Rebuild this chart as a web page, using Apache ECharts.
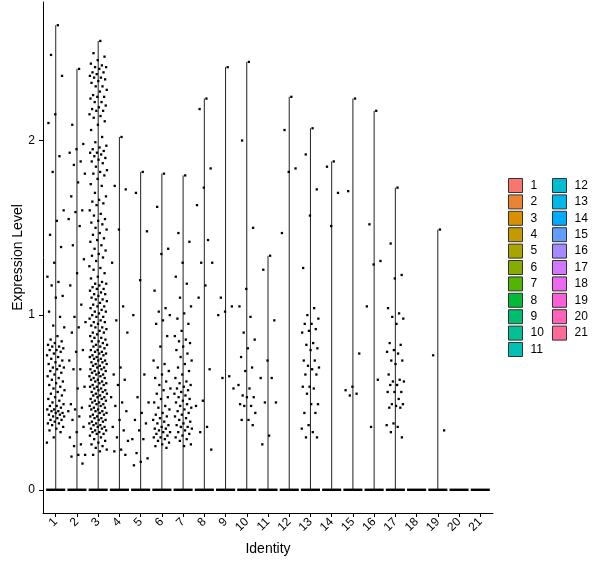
<!DOCTYPE html>
<html>
<head>
<meta charset="utf-8">
<script src="https://cdn.jsdelivr.net/npm/echarts@6/dist/echarts.min.js"></script>
<style>
html,body{margin:0;padding:0;background:#fff;}
#chart{width:600px;height:568px;}
</style>
</head>
<body>
<div id="chart"></div>
<script>
// ---- data ----
const clusters = ['1','2','3','4','5','6','7','8','9','10','11','12','13','14','15','16','17','18','19','20','21'];
const yTicks = [0, 1, 2];
const expr1 = [2.66,2.49,2.37,2.15,2.10,1.91,1.82,1.60,1.54,1.46,1.39,1.30,1.22,1.19,1.17,1.11,1.10,1.02,0.99,0.94,0.93,0.88,
0.86,0.85,0.84,0.83,0.82,0.82,0.81,0.80,0.80,0.79,0.78,0.77,0.76,0.75,0.74,0.73,0.72,0.71,0.70,0.70,0.69,0.68,0.67,0.66,0.65,0.64,0.63,0.62,0.61,0.60,0.59,0.58,0.57,0.56,0.55,0.54,0.53,0.52,0.51,0.50,0.49,0.48,0.48,0.47,0.46,0.46,0.45,0.45,0.44,0.44,0.43,0.43,0.42,0.42,0.41,0.40,0.40,0.39,0.38,0.38,0.37,0.36,0.35,0.34,0.33,0.30,0.27];
const expr2 = [2.41,2.09,1.98,1.95,1.93,1.88,1.86,1.81,1.76,1.68,1.60,1.59,1.55,1.51,1.40,1.32,1.24,1.17,1.06,0.99,0.96,0.93,0.90,0.80,0.79,0.74,0.69,0.69,0.59,0.58,0.49,0.47,0.46,0.45,0.42,0.40,0.36,0.33,0.30,0.26,0.25,0.20,0.20,0.19,0.15];
const expr3 = [2.57,2.50,2.48,2.46,2.44,2.43,2.42,2.42,2.41,2.39,2.39,2.38,2.37,2.36,2.36,2.35,2.34,2.33,2.31,2.31,2.29,2.28,2.26,2.25,2.25,2.24,2.22,2.22,2.20,2.19,2.18,2.17,2.17,2.15,2.14,2.13,2.11,2.09,2.06,2.02,1.99,1.97,1.96,1.95,1.94,1.93,1.93,1.92,1.91,1.90,1.89,1.88,1.87,1.85,1.83,1.82,1.81,1.80,1.78,1.75,1.74,1.70,1.68,1.66,1.65,1.64,1.63,1.60,1.58,1.57,1.55,1.54,1.53,1.52,1.50,1.49,1.47,1.46,1.44,1.43,1.42,1.40,1.38,1.37,1.35,1.34,1.33,1.31,1.28,1.27,1.26,1.24,1.22,1.21,
1.19,1.18,1.18,1.17,1.16,1.15,1.15,1.14,1.13,1.12,1.12,1.11,1.10,1.09,1.09,1.08,1.07,1.06,1.05,1.05,1.04,1.03,1.02,1.02,1.01,1.00,0.99,0.99,0.98,0.97,
0.96,0.96,0.95,0.94,0.93,0.93,0.92,0.91,0.90,0.90,0.89,0.88,0.87,0.87,0.86,0.85,0.85,0.84,0.83,0.83,0.82,0.82,0.81,0.80,0.80,0.79,0.79,0.78,0.78,0.77,
0.77,0.76,0.76,0.75,0.75,0.74,0.74,0.73,0.73,0.72,0.72,0.71,0.71,0.70,0.70,0.69,0.69,0.68,0.68,0.67,0.67,0.66,0.66,0.65,0.65,0.64,0.64,0.63,0.63,0.62,
0.62,0.61,0.61,0.60,0.60,0.59,0.59,0.58,0.58,0.57,0.57,0.56,0.56,0.55,0.55,0.54,0.54,0.53,0.53,0.52,0.52,0.51,0.51,0.50,0.50,0.49,0.49,0.48,0.48,0.47,
0.47,0.46,0.46,0.45,0.45,0.44,0.44,0.43,0.43,0.42,0.42,0.41,0.41,0.40,0.40,0.39,0.39,0.38,0.38,0.37,0.37,0.36,0.36,0.35,0.35,0.34,0.34,0.33,0.33,0.32,
0.32,0.31,0.30,0.29,0.28,0.27,0.26,0.25,0.24,0.23,0.22,0.20];
const expr4 = [2.02,1.74,1.72,1.49,1.30,1.05,0.97,0.90,0.70,0.66,0.63,0.60,0.53,0.50,0.48,0.45,0.40,0.36,0.34,0.30,0.28,0.23,0.22,0.20];
const expr5 = [1.82,1.70,1.48,1.20,1.00,0.66,0.53,0.50,0.44,0.40,0.38,0.34,0.29,0.29,0.21,0.18,0.16,0.14];
const expr6 = [1.81,1.62,1.38,1.35,1.14,1.04,1.02,1.00,0.97,0.95,0.88,0.82,0.74,0.72,0.70,0.68,0.66,0.64,0.62,0.60,0.58,0.57,0.55,0.53,0.52,0.50,0.48,0.47,0.46,0.44,0.43,0.42,0.41,0.40,0.39,0.38,0.37,0.36,0.35,0.35,0.34,0.33,0.33,0.32,0.31,0.30,0.30,0.29,0.28,0.27,0.26,0.25,0.24];
const expr7 = [1.80,1.47,1.42,1.30,1.22,1.18,1.10,1.05,1.01,0.98,0.95,0.91,0.88,0.86,0.85,0.84,0.82,0.80,0.78,0.76,0.74,0.72,0.70,0.68,0.66,0.64,0.62,0.61,0.60,0.59,0.58,0.57,0.56,0.55,0.54,0.53,0.52,0.51,0.50,0.49,0.48,0.47,0.46,0.45,0.44,0.43,0.42,0.41,0.40,0.39,0.38,0.37,0.36,0.36,0.35,0.34,0.33,0.32,0.31,0.30,0.29,0.28,0.26,0.25];
const expr8 = [2.24,2.18,1.84,1.73,1.63,1.43,1.30,1.30,1.17,1.10,0.69,0.51,0.48,0.36,0.33,0.23];
const expr9 = [2.42,1.10,1.05,1.02,1.00,0.65,0.64,0.58];
const expr10 = [2.45,2.00,1.50,1.15,1.05,0.99,0.90,0.86,0.81,0.76,0.70,0.68,0.60,0.58,0.54,0.53,0.53,0.49,0.48,0.48,0.44,0.40,0.40,0.37];
const expr11 = [1.34,1.26,0.97,0.74,0.64,0.64,0.50,0.50,0.31,0.26];
const expr12 = [2.25,2.06,1.84,1.82,1.47];
const expr13 = [2.07,1.92,1.72,1.57,1.27,1.04,1.00,0.98,0.95,0.95,0.92,0.91,0.90,0.84,0.83,0.81,0.80,0.74,0.74,0.71,0.70,0.69,0.66,0.66,0.59,0.59,0.58,0.55,0.49,0.49,0.44,0.44,0.37,0.35,0.33,0.30,0.30];
const expr14 = [1.88,1.85,1.70,1.51];
const expr15 = [2.24,1.71,0.78,0.59,0.57,0.55,0.54];
const expr16 = [2.17,1.52,1.31,1.29,1.05,0.63,0.36];
const expr17 = [1.73,1.41,1.23,1.21,1.04,1.01,0.99,0.98,0.95,0.84,0.83,0.80,0.79,0.78,0.74,0.74,0.72,0.66,0.63,0.62,0.62,0.60,0.60,0.56,0.56,0.56,0.52,0.49,0.49,0.48,0.47,0.47,0.38,0.37,0.36,0.33,0.30];
const expr18 = [];
const expr19 = [1.49,0.77,0.34];
const expr20 = [];
const expr21 = [];
const exprByCluster = [expr1,expr2,expr3,expr4,expr5,expr6,expr7,expr8,expr9,expr10,expr11,expr12,expr13,expr14,expr15,expr16,expr17,expr18,expr19,expr20,expr21];

// ---- styling helpers ----
function hclHex(h, c, l) {
  const Xn = 0.95047, Yn = 1.0, Zn = 1.08883;
  const un = 4 * Xn / (Xn + 15 * Yn + 3 * Zn), vn = 9 * Yn / (Xn + 15 * Yn + 3 * Zn);
  const hr = h * Math.PI / 180;
  const U = c * Math.cos(hr), V = c * Math.sin(hr);
  const Y = l > 8 ? Yn * Math.pow((l + 16) / 116, 3) : Yn * l / 903.3;
  const u = U / (13 * l) + un, v = V / (13 * l) + vn;
  const X = 9 * Y * u / (4 * v);
  const Z = Y * (12 - 3 * u - 20 * v) / (4 * v);
  const lin = [
    3.240479 * X - 1.537150 * Y - 0.498535 * Z,
    -0.969256 * X + 1.875992 * Y + 0.041556 * Z,
    0.055648 * X - 0.204043 * Y + 1.057311 * Z
  ];
  return '#' + lin.map(t => {
    let g = t <= 0.0031308 ? 12.92 * t : 1.055 * Math.pow(t, 1 / 2.4) - 0.055;
    g = Math.max(0, Math.min(1, g));
    return Math.round(g * 255).toString(16).padStart(2, '0');
  }).join('');
}
const palette = clusters.map((_, i) => hclHex(15 + 360 * i / clusters.length, 100, 65));
const FONT = 'Liberation Sans, Arial, sans-serif';
const HALF = 0.45;

const series = [];
clusters.forEach((name, i) => {
  const vals = exprByCluster[i];
  const top = vals.length ? Math.max.apply(null, vals) : 0;
  series.push({
    type: 'custom',
    name: name,
    itemStyle: { color: palette[i] },
    data: [[i + 1, top]],
    z: 1,
    silent: true,
    renderItem: function (params, api) {
      const x = api.value(0), m = api.value(1);
      const base = api.coord([x, 0]);
      const left = api.coord([x - HALF, 0]);
      const right = api.coord([x + HALF, 0]);
      const children = [];
      if (m > 0) {
        const tp = api.coord([x, m]);
        children.push({ type: 'line', shape: { x1: base[0], y1: base[1], x2: tp[0], y2: tp[1] },
          style: { stroke: '#222', lineWidth: 1 } });
      }
      children.push({ type: 'rect', shape: { x: left[0], y: base[1] - 1.2, width: right[0] - left[0], height: 2.4 },
        style: { fill: '#000' } });
      return { type: 'group', children: children };
    }
  });
});

const points = [];
exprByCluster.forEach((vals, i) => {
  vals.forEach((v, k) => {
    const jit = (((k + 1) * 0.6180339887) % 1 - 0.5) * 2 * 0.42;
    points.push([i + 1 + jit, v]);
  });
});
series.push({
  type: 'scatter', name: 'points', data: points, symbol: 'rect', symbolSize: 2.3,
  itemStyle: { color: '#000', opacity: 1 }, z: 3, silent: true
});

const legendCommon = {
  orient: 'vertical', top: 178, itemWidth: 14, itemHeight: 14, itemGap: 1.4, icon: 'rect',
  selectedMode: false, padding: 0,
  itemStyle: { borderColor: '#333', borderWidth: 1 },
  textStyle: { fontSize: 12, color: '#000', fontFamily: FONT, lineHeight: 14, padding: [0, 0, 0, 3] }
};
const legendItems = clusters.map((n, i) => ({ name: n, itemStyle: { color: palette[i], borderColor: '#333', borderWidth: 1 } }));

const option = {
  backgroundColor: '#fff',
  animation: false,
  grid: { left: 43, right: 107, top: 2, bottom: 55 },
  legend: [
    Object.assign({}, legendCommon, { left: 508, data: legendItems.slice(0, 11) }),
    Object.assign({}, legendCommon, { left: 552, data: legendItems.slice(11) })
  ],
  xAxis: {
    type: 'value', min: 0.4, max: 21.6,
    name: 'Identity', nameLocation: 'middle', nameGap: 29,
    nameTextStyle: { fontSize: 14, color: '#000', fontFamily: FONT },
    axisLine: { show: true, onZero: false, lineStyle: { color: '#000', width: 1 } },
    axisTick: { show: true, length: 4, customValues: clusters.map((_, i) => i + 1), lineStyle: { color: '#000' } },
    axisLabel: { customValues: clusters.map((_, i) => i + 1), formatter: v => clusters[Math.round(v) - 1],
      rotate: 45, fontSize: 12, color: '#000', fontFamily: FONT, margin: 7 },
    splitLine: { show: false }
  },
  yAxis: {
    type: 'value', min: -0.133, max: 2.793,
    name: 'Expression Level', nameLocation: 'middle', nameGap: 18, nameMoveOverlap: false,
    nameTextStyle: { fontSize: 14, color: '#000', fontFamily: FONT },
    axisLine: { show: true, onZero: false, lineStyle: { color: '#000', width: 1 } },
    axisTick: { show: true, length: 4, customValues: yTicks, lineStyle: { color: '#000' } },
    axisLabel: { customValues: yTicks, fontSize: 12, color: '#000', fontFamily: FONT, margin: 8 },
    splitLine: { show: false }
  },
  series: series
};
const chart = echarts.init(document.getElementById('chart'), null, { renderer: 'canvas' });
chart.setOption(option);
</script>
</body>
</html>
